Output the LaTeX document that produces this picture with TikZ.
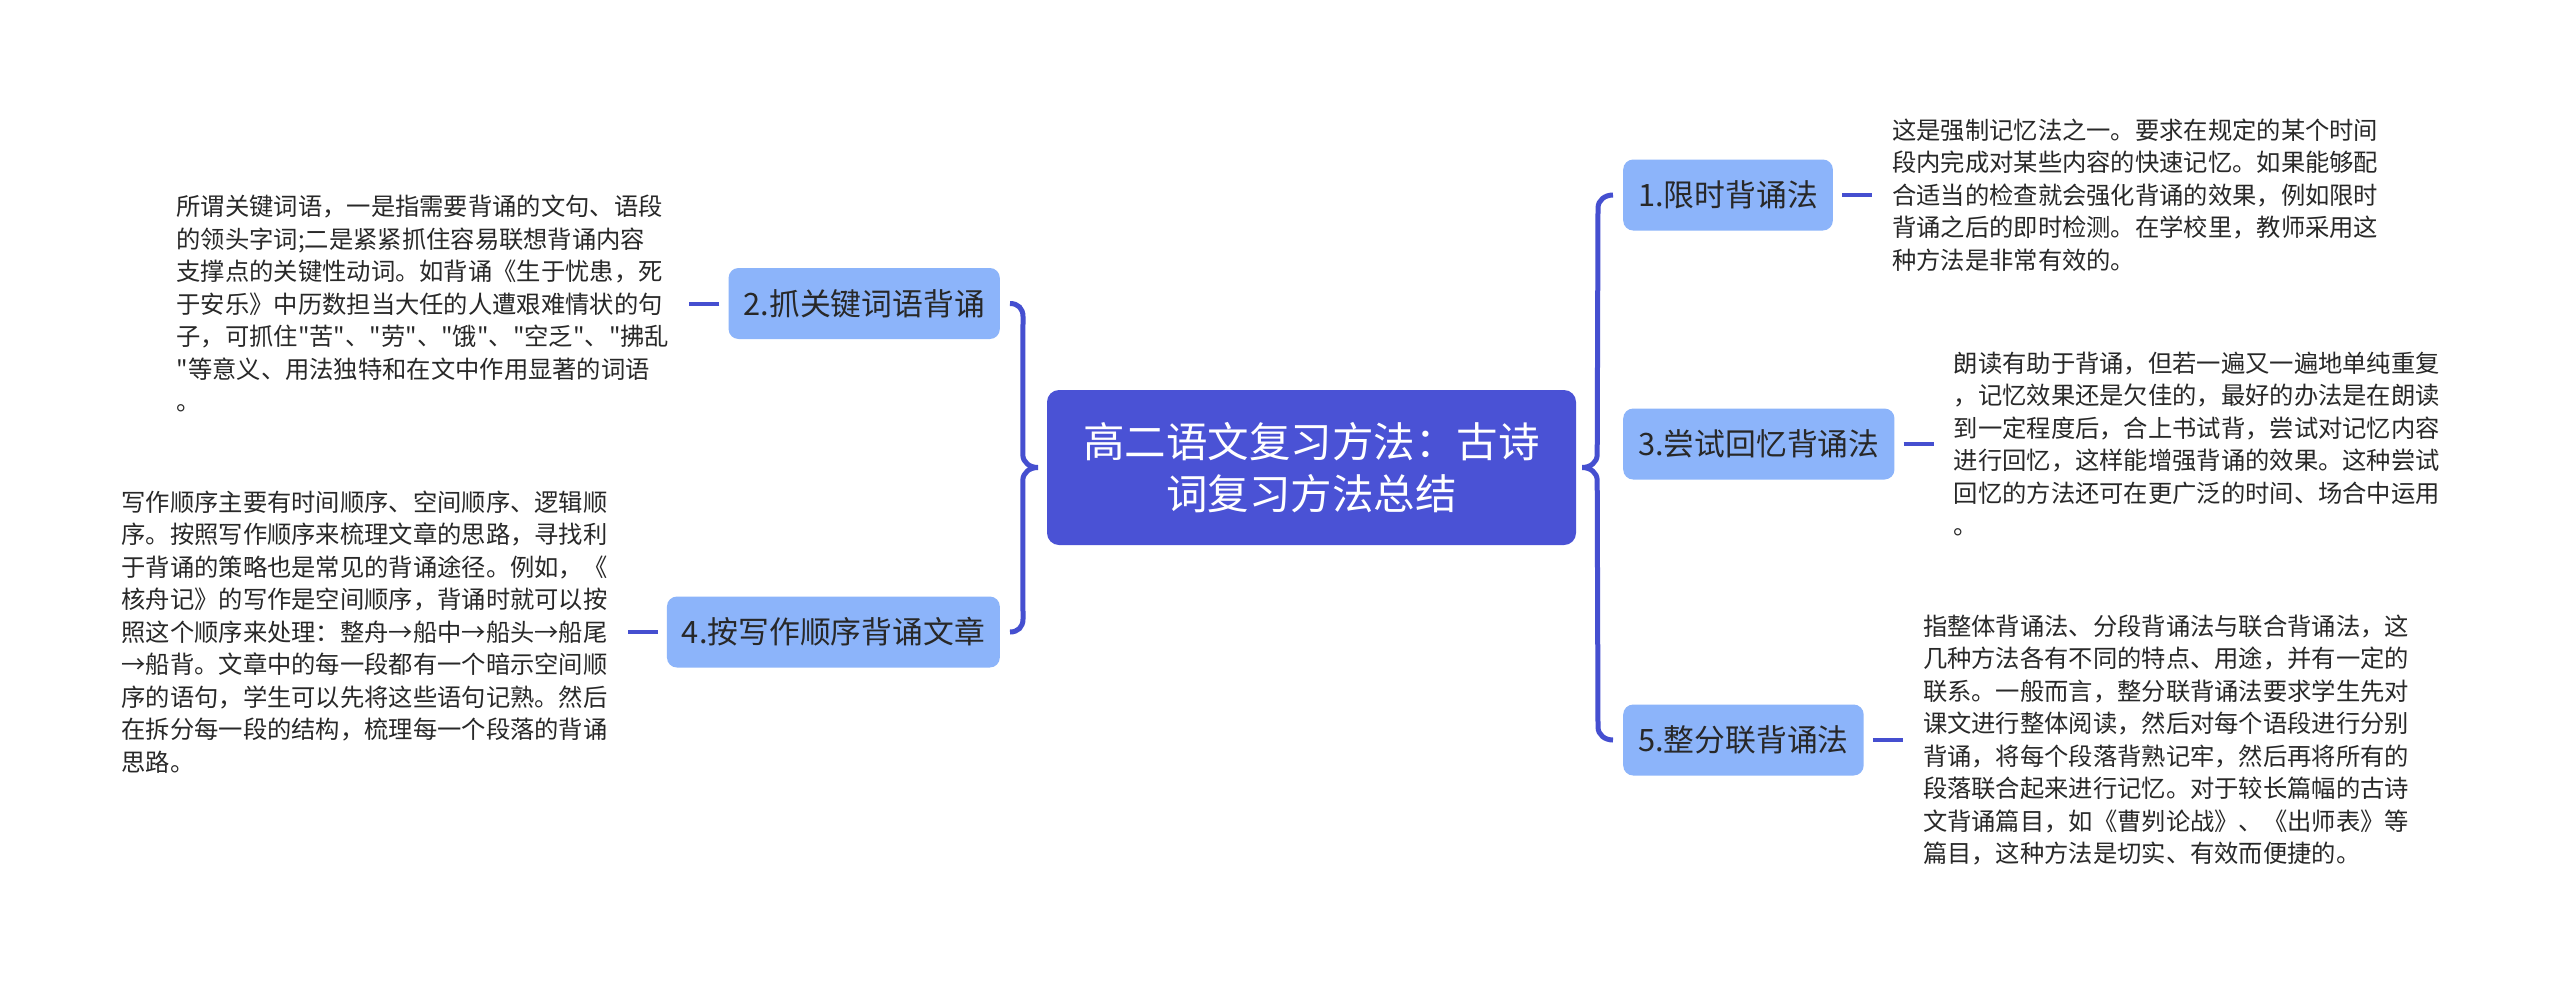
\documentclass[tikz,border=0pt]{standalone}
\usepackage{fontspec}
\setmainfont{Noto Sans CJK SC}
\usetikzlibrary{calc}
\definecolor{cmain}{RGB}{74,82,213}
\definecolor{csub}{RGB}{140,180,250}
\definecolor{cline}{RGB}{69,79,208}
\definecolor{ctext}{RGB}{40,40,40}
\newcommand\dq{{\XeTeXglyph\XeTeXcharglyph"22 }}
\tikzset{
  sub/.style={fill=csub, rounded corners=10pt, text=ctext, font=\fontsize{30.8}{38}\selectfont, minimum height=71pt, inner xsep=15pt, inner ysep=0pt},
  mainbox/.style={fill=cmain, rounded corners=12pt, text=white, font=\fontsize{41.5}{52}\selectfont, minimum width=529pt, minimum height=155pt, align=center, inner sep=0pt},
  desc/.style={text=ctext, font=\fontsize{24.3}{32.5}\selectfont, align=left, inner sep=0pt},
  conn/.style={draw=cline, line width=4pt},
  brace/.style={draw=cline, line width=5pt},
}
\begin{document}
\begin{tikzpicture}[x=1pt,y=-1pt]
\useasboundingbox[fill=white] (0,0) rectangle (2560,983);

\node[mainbox] (c) at (1311.5,467.5) {高二语文复习方法：古诗\\词复习方法总结};

\node[sub, anchor=east] (n2) at (1000,303.5) {2.抓关键词语背诵};
\node[sub, anchor=east] (n4) at (1000,632) {4.按写作顺序背诵文章};
\node[sub, anchor=west] (n1) at (1623,195) {1.限时背诵法};
\node[sub, anchor=west] (n3) at (1623,444) {3.尝试回忆背诵法};
\node[sub, anchor=west] (n5) at (1623,740) {5.整分联背诵法};

\node[desc, anchor=east] (t2) at ([xshift=-59pt]n2.west) {所谓关键词语，一是指需要背诵的文句、语段\\的领头字词;二是紧紧抓住容易联想背诵内容\\支撑点的关键性动词。如背诵《生于忧患，死\\于安乐》中历数担当大任的人遭艰难情状的句\\子，可抓住\dq 苦\dq 、\dq 劳\dq 、\dq 饿\dq 、\dq 空乏\dq 、\dq 拂乱\\\dq 等意义、用法独特和在文中作用显著的词语\\。};
\node[desc, anchor=east] (t4) at ([xshift=-59pt]n4.west) {写作顺序主要有时间顺序、空间顺序、逻辑顺\\序。按照写作顺序来梳理文章的思路，寻找利\\于背诵的策略也是常见的背诵途径。例如，《\\核舟记》的写作是空间顺序，背诵时就可以按\\照这个顺序来处理：整舟→船中→船头→船尾\\→船背。文章中的每一段都有一个暗示空间顺\\序的语句，学生可以先将这些语句记熟。然后\\在拆分每一段的结构，梳理每一个段落的背诵\\思路。};
\node[desc, anchor=west] (t1) at ([xshift=59pt]n1.east) {这是强制记忆法之一。要求在规定的某个时间\\段内完成对某些内容的快速记忆。如果能够配\\合适当的检查就会强化背诵的效果，例如限时\\背诵之后的即时检测。在学校里，教师采用这\\种方法是非常有效的。};
\node[desc, anchor=west] (t3) at ([xshift=59pt]n3.east) {朗读有助于背诵，但若一遍又一遍地单纯重复\\，记忆效果还是欠佳的，最好的办法是在朗读\\到一定程度后，合上书试背，尝试对记忆内容\\进行回忆，这样能增强背诵的效果。这种尝试\\回忆的方法还可在更广泛的时间、场合中运用\\。};
\node[desc, anchor=west] (t5) at ([xshift=59pt]n5.east) {指整体背诵法、分段背诵法与联合背诵法，这\\几种方法各有不同的特点、用途，并有一定的\\联系。一般而言，整分联背诵法要求学生先对\\课文进行整体阅读，然后对每个语段进行分别\\背诵，将每个段落背熟记牢，然后再将所有的\\段落联合起来进行记忆。对于较长篇幅的古诗\\文背诵篇目，如《曹刿论战》、《出师表》等\\篇目，这种方法是切实、有效而便捷的。};

\draw[conn] ([xshift=-9pt]n2.west) -- ([xshift=20pt]t2.east);
\draw[conn] ([xshift=-9pt]n4.west) -- ([xshift=20pt]t4.east);
\draw[conn] ([xshift=9pt]n1.east) -- ([xshift=-20pt]t1.west);
\draw[conn] ([xshift=9pt]n3.east) -- ([xshift=-20pt]t3.west);
\draw[conn] ([xshift=9pt]n5.east) -- ([xshift=-20pt]t5.west);

\coordinate (L1) at ([xshift=10pt]n2.east);
\coordinate (L2) at ([xshift=10pt]n4.east);
\coordinate (LT) at ([xshift=-9pt]c.west);
\draw[brace] (L1) .. controls +(8,0) and +(0,-8) .. ($(L1)+(13,13)$)
  -- ($(LT)+(-15,-13)$) .. controls +(0,8) and +(-8,0) .. (LT)
  .. controls +(-8,0) and +(0,-8) .. ($(LT)+(-15,13)$)
  -- ($(L2)+(13,-13)$) .. controls +(0,8) and +(8,0) .. (L2);

\coordinate (R1) at ([xshift=-10pt]n1.west);
\coordinate (R2) at ([xshift=-10pt]n5.west);
\coordinate (RT) at ([xshift=6pt]c.east);
\draw[brace] (R1) .. controls +(-8,0) and +(0,-8) .. ($(R1)+(-15,13)$)
  -- ($(RT)+(15,-13)$) .. controls +(0,8) and +(8,0) .. (RT)
  .. controls +(8,0) and +(0,-8) .. ($(RT)+(15,13)$)
  -- ($(R2)+(-15,-13)$) .. controls +(0,8) and +(-8,0) .. (R2);
\end{tikzpicture}
\end{document}
